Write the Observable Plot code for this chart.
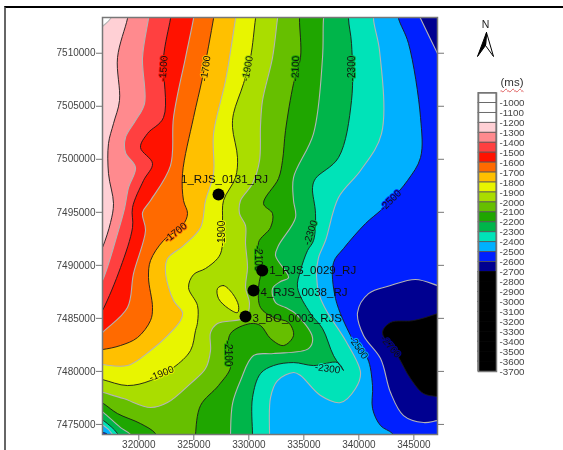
<!DOCTYPE html>
<html><head><meta charset="utf-8">
<script src="https://cdn.jsdelivr.net/npm/d3@7"></script>
<script src="https://cdn.jsdelivr.net/npm/@observablehq/plot@0.6"></script>
<style>
html,body{margin:0;padding:0;background:#fff}
#page{position:relative;width:563px;height:450px;overflow:hidden;background:#fff;font-family:"Liberation Sans",Arial,sans-serif;filter:blur(0.4px)}
#border{position:absolute;left:4px;top:6px;right:-5px;bottom:-5px;border-top:2.5px solid #000;border-left:2px solid #666}
#unit{position:absolute;left:490px;top:76px;width:44px;text-align:center;font-size:11.5px;color:#333;text-decoration:underline wavy #e06060 1px;text-underline-offset:2px}
</style></head><body><div id="page"><div id="border"></div><div id="unit">(ms)</div></div>
<script>
const c1200 = [[317790,7514500],[317430,7513270],[316700,7512520],[315610,7511390]];
const c1300 = [[319155,7514500],[318970,7513270],[318065,7509595],[318245,7505540],[317700,7503370],[317245,7501490],[317245,7498650],[317700,7495830],[317430,7494035],[316700,7491680],[315610,7489320]];
const c1400 = [[321064,7514500],[320880,7513270],[320337,7509595],[320519,7505260],[319700,7503650],[318790,7502050],[318790,7500630],[319700,7499220],[319065,7497335],[318700,7495355],[318065,7492999],[316700,7488570],[315610,7486680]];
const c1500 = [[323064,7514500],[322882,7513270],[322246,7509595],[322246,7503940],[320791,7502430],[320155,7501110],[321246,7499600],[320428,7497995],[319428,7495450],[319428,7493560],[318337,7489790],[316700,7485740],[315610,7483850]];
const c1600 = [[325155,7514500],[324973,7513270],[324246,7509595],[323155,7503940],[322882,7499410],[321064,7496110],[320337,7494980],[320610,7493280],[319519,7489225],[318973,7486020],[316700,7483660],[315610,7482440]];
const c1700 = [[326973,7514500],[326791,7513270],[325791,7507710],[324973,7503940],[323973,7498650],[324064,7496110],[324428,7494885],[323973,7493750],[322246,7492340],[321064,7490450],[320882,7488850],[321246,7486020],[321064,7484800],[319882,7483190],[318337,7482440],[316700,7482060],[315610,7481965]];
const c1800 = [[328972,7514500],[328790,7513270],[327882,7507430],[326791,7502430],[326791,7498650],[326063,7496110],[325609,7493560],[324064,7491865],[322609,7490640],[322428,7489320],[323155,7486680],[323973,7485550],[323791,7484800],[322609,7483380],[321064,7481965],[318973,7480550],[316700,7480645],[315610,7480835]];
const c1900 = [[330790,7514500],[330609,7513270],[330154,7509595],[329518,7507140],[328609,7504315],[328518,7502990],[328972,7500165],[328790,7498280],[327700,7496110],[327609,7494225],[327518,7491400],[327154,7490640],[326063,7489700],[324973,7489130],[324518,7487905],[325336,7486210],[325336,7484610],[325155,7483850],[324700,7481965],[323155,7480365],[321064,7479135],[318973,7478665],[316700,7479230],[315610,7479515]];
const c1900island = [[327154,7487810],[327700,7488095],[328518,7487340],[329063,7486210],[328972,7485550],[328154,7485925],[327245,7486870]];
const c2000 = [[332790,7514500],[332608,7513270],[332154,7509595],[331245,7505540],[331063,7503180],[330972,7499880],[330336,7497710],[329245,7496110],[329154,7494885],[329700,7493750],[329700,7492055],[329881,7489790],[329700,7487905],[330063,7486400],[329700,7485080],[327154,7484510],[326518,7483660],[326518,7481965],[326063,7480265],[324700,7478855],[322609,7477060],[321064,7476590],[318610,7477440],[316792,7478005],[315610,7478380]];
const c2100 = [[334699,7514500],[334608,7513270],[334699,7509595],[334063,7507140],[333336,7502710],[333063,7499880],[332699,7498185],[331336,7495827],[332154,7494885],[331972,7493564],[330881,7492150],[331245,7490170],[330881,7487906],[331063,7486020],[332245,7485077],[333608,7484605],[334063,7483380],[333154,7482437],[331972,7483097],[331063,7484320],[330154,7484510],[328336,7483570],[328154,7481680],[328336,7480362],[327245,7478665],[325609,7476780],[325155,7474044],[325155,7472912]];
const c2100corner = [[315610,7477722],[316792,7476967],[318064,7476024],[320155,7475081],[321519,7474138],[321973,7472912]];
const c2200 = [[336972,7514500],[336790,7513270],[336699,7509595],[335881,7502428],[334063,7498279],[334063,7496110],[334245,7494507],[332699,7491866],[332427,7490924],[333608,7488849],[332881,7488472],[332154,7487812],[332427,7486491],[333336,7486020],[334245,7485454],[335790,7483191],[335426,7482154],[332245,7481682],[330427,7481494],[329245,7479136],[328518,7476967],[328336,7474044],[328336,7472912]];
const c2200corner = [[315610,7477061],[316792,7476118],[318337,7474704],[319246,7474044],[319700,7472912]];
const c2300 = [[339153,7514500],[339062,7513270],[339335,7510915],[339335,7505540],[338153,7500165],[336062,7498185],[335790,7497336],[336062,7494884],[335881,7492338],[335335,7491395],[334699,7489509],[334426,7487906],[335608,7485454],[336699,7484040],[337699,7481494],[338608,7480080],[338062,7480833],[335881,7480550],[334063,7480833],[332245,7480550],[331063,7479796],[330336,7477533],[330336,7474044],[330336,7472912]];
const c2300corner = [[315610,7476118],[316792,7475364],[318064,7474138],[318519,7472912]];
const c2400 = [[341516,7514500],[341335,7513270],[341880,7510255],[342062,7502428],[340153,7498939],[338153,7496392],[336972,7492338],[336335,7490735],[336153,7489038],[336426,7487152],[337153,7485548],[338790,7482908],[340153,7479890],[339699,7478382],[338335,7477061],[336517,7477722],[334699,7479606],[334063,7479890],[332608,7479136],[331972,7477533],[331881,7474044],[331881,7472912]];
const c2400corner = [[315610,7475364],[316792,7474893],[317610,7474044],[317883,7472912]];
const c2500 = [[343425,7514500],[343607,7513273],[344516,7510915],[345607,7503937],[345607,7500165],[344425,7497996],[342880,7496110],[341971,7495167],[340607,7493941],[338608,7491584],[337699,7490263],[337881,7486868],[339244,7483380],[339880,7482248],[340789,7481211],[341244,7478665],[341244,7476496],[341971,7474893],[343062,7474138],[343789,7472912]];
const c2500corner = [[315610,7474610],[316792,7474232],[317155,7474044],[317337,7472912]];
const c2600corner = [[345062,7514500],[345607,7513273],[347152,7509972],[348334,7507426]];
const c2600 = [[348334,7487623],[347152,7488095],[345153,7488660],[342880,7488095],[340880,7487340],[339880,7485548],[340426,7483380],[341971,7481211],[342880,7478004],[344062,7475835],[345880,7475175],[347152,7475364],[348334,7475553]];
const c2700 = [[348334,7485926],[347152,7485454],[344971,7484794],[342880,7484605],[342153,7483662],[343517,7481494],[344698,7479325],[345880,7477910],[347152,7477627],[348334,7477439]];

// Band colours
const pink="#ffd0d5", salmon="#ff8a8e", coral="#ff4040", red="#ff1200", orange="#ff6a00", amber="#ffc000", yellow="#e8f500", lime="#aadd00", green="#66bf00", dgreen="#1fa600", mgreen="#00b54a", teal="#00e3b8", sky="#00b0ff", blue="#0020ff", navy="#000090", black="#000000";
const lineDark="#1a1a1a", lineLight="#b4b4b4";

// [outline, fill beyond the line, line colour, closing corner]
const full="full", SW="sw", NE="ne", none="none";
const layers = [
  [c1200,pink,lineLight,full],[c1300,salmon,lineDark,full],[c1400,coral,lineLight,full],[c1500,red,lineDark,full],
  [c1600,orange,lineLight,full],[c1700,amber,lineDark,full],[c1800,yellow,lineLight,full],[c1900,lime,lineDark,full],
  [c2000,green,lineLight,full],[c2100,dgreen,lineDark,full],[c2100corner,dgreen,lineDark,SW],[c2200,mgreen,lineLight,full],[c2200corner,mgreen,lineLight,SW],
  [c2300,teal,lineDark,full],[c2300corner,teal,lineDark,SW],[c2400,sky,lineLight,full],[c2400corner,sky,lineLight,SW],
  [c2500,blue,lineDark,full],[c2500corner,blue,lineDark,SW],[c2600corner,navy,lineLight,NE],[c2600,navy,lineLight,none],[c2700,black,lineDark,none]
];

const xDomain=[316700,347150], yDomain=[7474050,7513370];
const xTicks=[320000,325000,330000,335000,340000,345000];
const yTicks=[7475000,7480000,7485000,7490000,7495000,7500000,7505000,7510000];
const outSW=[314000,7471000], outSE=[350000,7471000], outNE=[350000,7516000];
const closing={full:[outSW,outSE,outNE],sw:[outSW],ne:[outNE],none:[]};

// Contour labels
const labelText=["-1500","-1700","-1900","-2100","-2300","-2500","-1700","-1900","-2100","-2300","-1900","-2100","-2300","-2500","-2700"];
const labelX=[322246,326063,329881,334245,339335,342880,323337,327518,330881,335608,322064,328154,337153,339971,342880];
const labelY=[7508558,7508558,7508558,7508558,7508558,7496110,7493092,7492998,7490640,7493092,7479796,7481682,7480268,7482248,7482342];
const labelRotate=[-86,-82,-80,-88,-90,-45,-38,-90,90,-72,-22,90,8,55,50];
const labelHalo=[red,amber,lime,dgreen,mgreen,blue,orange,yellow,dgreen,mgreen,yellow,dgreen,teal,sky,navy];

// Wells
const wellName=["1_RJS_0131_RJ","1_RJS_0029_RJ","4_RJS_0038_RJ","3_BO_0003_RJS"];
const wellX=[327245,331217,330426,329700];
const wellY=[7496675,7489508,7487622,7485170];
const wellLabelDy=[-15,0,2,2];

// Legend
const legendLevels=[-1000,-1100,-1200,-1300,-1400,-1500,-1600,-1700,-1800,-1900,-2000,-2100,-2200,-2300,-2400,-2500,-2600,-2700,-2800,-2900,-3000,-3100,-3200,-3300,-3400,-3500,-3600,-3700];
const legendFill=["#fff","#fff","#fff",pink,salmon,coral,red,orange,amber,yellow,lime,green,dgreen,mgreen,teal,sky,blue,navy,black,black,black,black,black,black,black,black,black,black];

const font='"Liberation Sans",Arial,sans-serif';
const clip=true, curve="catmull-rom";
const fx=d=>d[0], fy=d=>d[1];

const main=Plot.plot({
  width:563,height:450,marginLeft:102,marginRight:126,marginTop:17,marginBottom:16,
  x:{domain:xDomain,label:null},y:{domain:yDomain,label:null},color:{type:"identity"},
  style:{position:"absolute",left:"0",top:"0",background:"transparent",fontFamily:font},
  marks:[
    Plot.rect([0],{x1:xDomain[0],x2:xDomain[1],y1:yDomain[0],y2:yDomain[1],fill:"#fff"}),
    ...layers.map(([pts,fill,,corner])=>Plot.line(pts.concat(closing[corner]),{x:fx,y:fy,fill,stroke:"none",curve,clip})),
    Plot.line(c1900island,{x:fx,y:fy,fill:yellow,stroke:"none",curve:"catmull-rom-closed",clip}),
    ...layers.map(([pts,,line])=>Plot.line(pts,{x:fx,y:fy,stroke:line,strokeWidth:line===lineDark?0.9:1.1,curve,clip})),
    Plot.line(c1900island,{x:fx,y:fy,stroke:lineDark,strokeWidth:0.9,curve:"catmull-rom-closed",clip}),
    Plot.text(labelText,{x:(d,i)=>labelX[i],y:(d,i)=>labelY[i],text:d=>d,rotate:(d,i)=>labelRotate[i],stroke:(d,i)=>labelHalo[i],strokeWidth:2,fill:"#111",fontSize:10}),
    Plot.frame({stroke:"#777",strokeWidth:1.5}),
    Plot.axisX(xTicks,{label:null,tickSize:6,tickPadding:0,tickFormat:"d",stroke:"#777",fill:"#444",fontSize:10,anchor:"bottom"}),
    Plot.axisY(yTicks,{label:null,tickSize:6,tickPadding:1,tickFormat:"d",stroke:"#777",fill:"#444",fontSize:10,anchor:"left"}),
    Plot.axisY(yTicks,{label:null,tickSize:6,tickFormat:()=>"",stroke:"#777",anchor:"right"}),
    Plot.dot(wellName,{x:(d,i)=>wellX[i],y:(d,i)=>wellY[i],r:6,fill:"#000",stroke:"none"}),
    Plot.text(wellName.slice(0,1),{x:wellX[0],y:wellY[0],dx:6,dy:wellLabelDy[0],text:d=>d,fill:"#111",fontSize:11.5,textAnchor:"middle"}),
    ...[1,2,3].map(i=>Plot.text([wellName[i]],{x:[wellX[i]],y:[wellY[i]],dx:7,dy:wellLabelDy[i],text:d=>d,fill:"#111",fontSize:11.5,textAnchor:"start"}))
  ]
});

const legendCells=legendLevels.map((d,i)=>({hi:d+100,lo:d,fill:legendFill[i],line:legendFill[i]===black?black:"#555"}));
const legend=Plot.plot({
  width:70,height:300,marginLeft:8,marginRight:44,marginTop:12.5,marginBottom:9,
  x:{domain:[0,1],axis:null},y:{domain:[-3700,-900],label:null},color:{type:"identity"},
  style:{position:"absolute",left:"470px",top:"80px",background:"transparent",fontFamily:font,overflow:"visible"},
  marks:[
    Plot.rect(legendCells,{x1:0,x2:1,y1:"lo",y2:"hi",fill:"fill",stroke:"line",strokeWidth:0.8}),
    Plot.frame({stroke:"#777",strokeWidth:1.5}),
    Plot.axisY(legendLevels,{anchor:"right",label:null,tickSize:0,tickPadding:3,tickFormat:d=>String(d),fill:"#444",fontSize:9.8})
  ]
});

const arrowBlack=[[16,17],[7,41],[15,30]];
const arrowWhite=[[16,17],[23,41],[15,30]];
const arrow=Plot.plot({
  width:30,height:45,margin:0,x:{domain:[0,30],axis:null},y:{domain:[45,0],axis:null},
  style:{position:"absolute",left:"470px",top:"15px",background:"transparent",fontFamily:font},
  marks:[
    Plot.line(arrowWhite.concat([arrowWhite[0]]),{x:fx,y:fy,fill:"#fff",stroke:"#000",strokeWidth:1}),
    Plot.line(arrowBlack.concat([arrowBlack[0]]),{x:fx,y:fy,fill:"#000",stroke:"#000",strokeWidth:1}),
    Plot.text(["N"],{x:[15],y:[9],text:d=>d,fill:"#222",fontSize:10.5})
  ]
});

const page=document.getElementById("page");
page.append(main,legend,arrow);
</script></body></html>
